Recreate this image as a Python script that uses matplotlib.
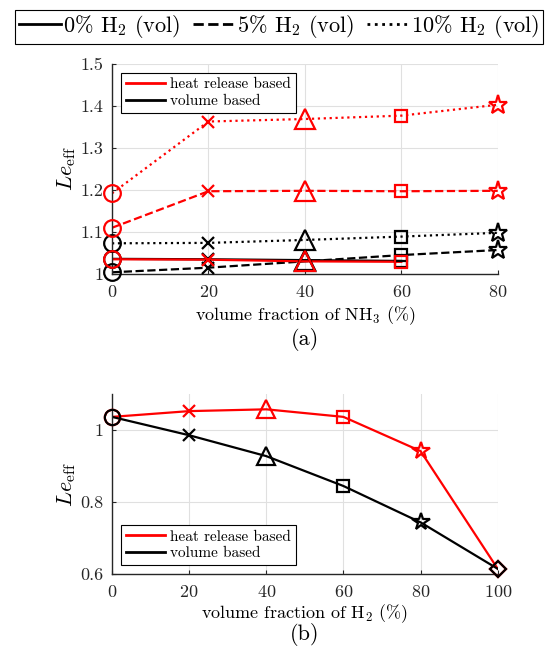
import numpy as np
import matplotlib
matplotlib.use("Agg")
import matplotlib.pyplot as plt

plt.rcParams['font.family'] = 'serif'
plt.rcParams['font.serif'] = ['cmr10']
plt.rcParams['mathtext.fontset'] = 'cm'
plt.rcParams['axes.formatter.use_mathtext'] = True

# panel (a): Le_eff vs NH3 fraction, for 0/5/10 % H2
nh3 = [0, 20, 40, 60, 80]
nh3_short = [0, 20, 40, 60]
heat_0 = [1.035, 1.034, 1.030, 1.029]
vol_0 = [1.036, 1.035, 1.033, 1.031]
heat_5 = [1.110, 1.197, 1.198, 1.197, 1.198]
vol_5 = [1.004, 1.015, 1.030, 1.045, 1.057]
heat_10 = [1.192, 1.363, 1.369, 1.377, 1.403]
vol_10 = [1.073, 1.074, 1.081, 1.089, 1.098]

# panel (b): Le_eff vs H2 fraction
h2 = [0, 20, 40, 60, 80, 100]
heat_b = [1.037, 1.053, 1.058, 1.037, 0.942, 0.615]
vol_b = [1.037, 0.986, 0.928, 0.845, 0.744, 0.615]

markers_a = ['o', 'x', '^', 's', '*']
markers_b = ['o', 'x', '^', 's', '*', 'D']
size_a = {'o': 12, 'x': 8, '^': 14, 's': 9, '*': 14}
size_b = {'o': 11, 'x': 8, '^': 13, 's': 8.5, '*': 13, 'D': 8.5}

fig = plt.figure(figsize=(5.55, 6.57), dpi=100)
ax1 = fig.add_axes([0.2018, 0.583, 0.695, 0.3196])
ax2 = fig.add_axes([0.2018, 0.126, 0.695, 0.274])

def plot_series(ax, x, y, color, ls, marks, sizes, lw=1.6):
    ax.plot(x, y, color=color, ls=ls, lw=lw, zorder=2)
    for xi, yi, m in zip(x, y, marks):
        ax.plot(xi, yi, marker=m, color=color, mfc='none', mec=color,
                ms=sizes[m], mew=1.6, ls='none', zorder=3, clip_on=False)

# (a)
plot_series(ax1, nh3_short, vol_0, 'k', '-', markers_a, size_a)
plot_series(ax1, nh3, vol_5, 'k', '--', markers_a, size_a)
plot_series(ax1, nh3, vol_10, 'k', ':', markers_a, size_a)
plot_series(ax1, nh3_short, heat_0, 'r', '-', markers_a, size_a)
plot_series(ax1, nh3, heat_5, 'r', '--', markers_a, size_a)
plot_series(ax1, nh3, heat_10, 'r', ':', markers_a, size_a)
ax1.set_xlim(0, 80)
ax1.set_ylim(1.0, 1.5)
ax1.set_xticks([0, 20, 40, 60, 80])
ax1.set_yticks([1, 1.1, 1.2, 1.3, 1.4, 1.5])
ax1.set_yticklabels(['1', '1.1', '1.2', '1.3', '1.4', '1.5'])
ax1.set_xlabel(r'volume fraction of NH$_3$ (%)', fontsize=13)
ax1.set_ylabel(r'$Le_{\rm eff}$', fontsize=16, labelpad=2)
ax1.xaxis.set_label_coords(0.5, -0.145)
ax1.text(0.5, -0.31, '(a)', transform=ax1.transAxes, ha='center', va='center', fontsize=16)

# (b)
plot_series(ax2, h2, heat_b, 'r', '-', markers_b, size_b)
plot_series(ax2, h2, vol_b, 'k', '-', markers_b, size_b)
ax2.set_xlim(0, 100)
ax2.set_ylim(0.6, 1.1)
ax2.set_xticks([0, 20, 40, 60, 80, 100])
ax2.set_yticks([0.6, 0.8, 1.0])
ax2.set_yticklabels(['0.6', '0.8', '1'])
ax2.set_xlabel(r'volume fraction of H$_2$ (%)', fontsize=13)
ax2.set_ylabel(r'$Le_{\rm eff}$', fontsize=16, labelpad=2)
ax2.xaxis.set_label_coords(0.5, -0.155)
ax2.text(0.5, -0.333, '(b)', transform=ax2.transAxes, ha='center', va='center', fontsize=16)

for ax in (ax1, ax2):
    ax.grid(True, color='0.88', lw=0.8)
    ax.set_axisbelow(True)
    ax.spines['top'].set_visible(False)
    ax.spines['right'].set_visible(False)
    for s in ('left', 'bottom'):
        ax.spines[s].set_color('0.15')
        ax.spines[s].set_linewidth(1.0)
    ax.tick_params(direction='in', length=3, labelsize=13, colors='0.15')
    ax.tick_params(axis='x', pad=7)
    ax.tick_params(axis='y', pad=6)
    h_r, = ax.plot([], [], color='r', lw=2)
    h_k, = ax.plot([], [], color='k', lw=2)
    loc = 'upper left' if ax is ax1 else 'lower left'
    leg = ax.legend([h_r, h_k], ['heat release based', 'volume based'], loc=loc,
                    fontsize=11, fancybox=False, edgecolor='k', framealpha=1,
                    handlelength=2.6, borderpad=0.3, labelspacing=0.2,
                    handletextpad=0.3, borderaxespad=0.6)
    leg.get_frame().set_linewidth(0.8)
    leg.set_zorder(5)

# top legend for H2 content
l0, = ax1.plot([], [], 'k-', lw=2)
l5, = ax1.plot([], [], 'k--', lw=2)
l10, = ax1.plot([], [], 'k:', lw=2)
top = fig.legend([l0, l5, l10],
                 [r'0% H$_2$ (vol)', r'5% H$_2$ (vol)', r'10% H$_2$ (vol)'],
                 loc='upper center', bbox_to_anchor=(0.503, 0.985), ncol=3,
                 fontsize=16, fancybox=False, edgecolor='k', framealpha=1,
                 handlelength=1.9, handletextpad=0.1, columnspacing=0.55,
                 borderpad=0.15, borderaxespad=0)
top.get_frame().set_linewidth(0.8)

fig.savefig('out.png', dpi=100)
